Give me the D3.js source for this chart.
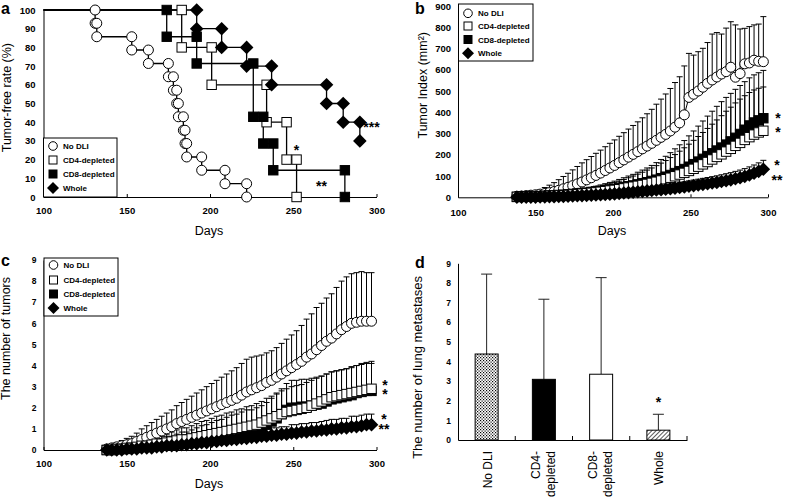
<!DOCTYPE html>
<html><head><meta charset="utf-8">
<script src="https://cdn.jsdelivr.net/npm/d3@7"></script>
<style>body{margin:0;background:#fff}svg{display:block}</style>
</head><body>
<script>
// ---------------- DATA ----------------
const xTicks = [100, 150, 200, 250, 300];
const seriesNames = ["No DLI", "CD4-depleted", "CD8-depleted", "Whole"];

// Panel a: Kaplan-Meier tumor-free rate (event days and rate after event)
const kmNoDliDays = [131, 132, 153, 163, 175, 178, 180, 181, 184, 185, 186, 195, 209, 222];
const kmNoDliRate = [92.9, 85.7, 78.6, 71.4, 64.3, 57.1, 50, 42.9, 35.7, 28.6, 21.4, 14.3, 7.1, 0];
const kmCd4Days = [183, 201, 234, 246, 252];
const kmCd4Rate = [80, 60, 40, 20, 0];
const kmCd8Days = [174, 192, 226, 232, 238, 281];
const kmCd8Rate = [85.7, 71.4, 42.9, 28.6, 14.3, 0];
const kmWholeDays = [192, 207, 222, 237, 270, 280, 290];
const kmWholeRate = [90, 80, 70, 60, 50, 40, 30];

// Panels b, c: measurement days
const days = [138,141,144,147,150,153,156,159,162,165,168,171,174,177,180,183,186,189,192,195,198,201,204,207,210,213,216,219,222,225,228,231,234,237,240,243,246,249,252,255,258,261,264,267,270,273,276,279,282,285,288,291,294,297];

// Panel b: tumor index (mm2), mean and upper error
const noDliIndex = [5,6,8,10,12,15,18,22,27,33,40,47,55,63,72,82,92,103,114,126,138,150,163,176,189,202,215,228,241,254,268,282,296,312,330,350,388,470,485,500,518,536,552,566,580,591,612,565,582,628,632,645,640,638];
const noDliIndexErr = [5,6,8,12,15,20,28,35,42,50,58,66,74,82,90,95,100,104,108,112,116,120,124,128,132,136,140,146,152,160,170,180,190,200,210,217,230,207,184,185,183,192,216,209,188,205,214,246,210,167,171,166,175,212];
const cd4Index = [2,2,3,3,4,5,6,7,8,9,10,11,13,15,17,19,21,23,26,29,32,35,38,42,46,50,54,58,63,68,73,79,85,92,99,107,115,124,134,144,155,166,178,190,202,215,228,242,256,270,283,295,305,313];
const cd4IndexErr = [2,2,3,3,4,5,6,7,8,9,10,11,12,14,16,18,20,22,25,28,31,34,38,42,46,50,55,60,65,70,76,82,88,95,102,110,118,126,134,142,150,158,166,174,182,190,196,202,206,208,210,210,208,206];
const cd8Index = [2,3,3,4,5,6,7,8,9,11,12,14,16,18,20,22,25,28,31,34,37,40,44,48,52,56,61,66,71,77,83,90,97,105,114,123,133,144,156,168,181,194,207,220,234,248,263,280,298,318,338,352,362,372];
const cd8IndexErr = [2,3,3,4,5,6,7,8,9,10,11,12,14,16,18,20,22,24,27,30,33,36,40,44,48,52,57,62,67,73,80,88,96,105,114,124,134,145,156,167,178,188,198,208,216,222,226,228,228,226,224,224,224,225];
const wholeIndex = [0,0,1,1,1,2,2,3,3,4,4,5,6,7,8,9,10,11,12,13,14,16,18,20,22,24,26,28,30,32,34,36,38,40,43,46,49,52,55,58,61,64,67,70,74,78,82,87,92,98,105,113,122,132];
const wholeIndexErr = [0,0,1,1,1,2,2,2,3,3,3,4,4,5,5,6,6,7,7,8,8,9,10,11,12,13,14,15,16,17,18,19,20,21,22,23,24,25,26,27,28,29,30,31,32,33,34,35,36,37,38,39,40,42];

// Panel c: number of tumors, mean and upper error
const noDliCount = [0.05,0.1,0.15,0.2,0.25,0.3,0.4,0.5,0.6,0.7,0.8,0.9,1.0,1.1,1.25,1.35,1.45,1.55,1.65,1.75,1.85,1.95,2.05,2.15,2.25,2.35,2.45,2.6,2.75,2.85,2.95,3.05,3.2,3.3,3.45,3.6,3.75,3.9,4.05,4.2,4.4,4.55,4.75,4.95,5.15,5.3,5.5,5.7,5.85,6.0,6.05,6.1,6.1,6.1];
const noDliCountErr = [0.1,0.15,0.2,0.25,0.3,0.35,0.4,0.5,0.55,0.6,0.65,0.7,0.75,0.8,0.85,0.9,0.95,1.0,1.05,1.1,1.15,1.2,1.25,1.3,1.35,1.4,1.45,1.5,1.55,1.55,1.5,1.45,1.4,1.4,1.4,1.45,1.5,1.55,1.6,1.7,1.8,1.9,2.0,2.0,2.05,2.1,2.2,2.3,2.35,2.35,2.35,2.35,2.3,2.3];
const cd4Count = [0,0,0.05,0.05,0.1,0.1,0.15,0.2,0.2,0.25,0.3,0.3,0.35,0.4,0.45,0.5,0.5,0.55,0.6,0.65,0.7,0.75,0.8,0.85,0.9,0.95,1.0,1.05,1.1,1.15,1.2,1.3,1.4,1.5,1.6,1.7,1.8,1.85,1.9,1.95,2.0,2.1,2.2,2.3,2.4,2.5,2.55,2.6,2.65,2.7,2.75,2.8,2.85,2.9];
const cd4CountErr = [0,0.05,0.1,0.1,0.15,0.15,0.2,0.25,0.25,0.3,0.35,0.35,0.4,0.45,0.5,0.55,0.55,0.6,0.65,0.7,0.7,0.75,0.8,0.8,0.85,0.85,0.9,0.9,0.95,0.95,1.0,1.0,1.05,1.05,1.1,1.1,1.1,1.15,1.15,1.15,1.2,1.2,1.2,1.2,1.2,1.2,1.2,1.2,1.2,1.25,1.25,1.3,1.3,1.3];
const cd8Count = [0,0,0.05,0.05,0.05,0.1,0.1,0.15,0.15,0.2,0.2,0.25,0.3,0.3,0.35,0.4,0.4,0.45,0.5,0.55,0.6,0.65,0.7,0.75,0.8,0.85,0.9,0.95,1.0,1.0,1.05,1.1,1.2,1.35,1.5,1.7,1.9,2.0,2.0,2.05,2.05,2.1,2.15,2.2,2.3,2.4,2.45,2.5,2.55,2.6,2.7,2.75,2.8,2.8];
const cd8CountErr = [0,0.05,0.1,0.1,0.1,0.15,0.15,0.2,0.2,0.25,0.25,0.3,0.35,0.35,0.4,0.45,0.45,0.5,0.55,0.6,0.6,0.65,0.7,0.7,0.75,0.8,0.8,0.85,0.9,0.9,0.95,1.0,1.05,1.1,1.15,1.2,1.25,1.3,1.3,1.3,1.3,1.3,1.3,1.3,1.3,1.3,1.3,1.3,1.3,1.3,1.3,1.3,1.3,1.3];
const wholeCount = [0,0,0,0,0.05,0.05,0.05,0.1,0.1,0.1,0.15,0.15,0.2,0.2,0.2,0.25,0.25,0.3,0.3,0.35,0.35,0.4,0.4,0.45,0.45,0.5,0.5,0.55,0.55,0.6,0.6,0.65,0.65,0.7,0.7,0.75,0.75,0.8,0.8,0.85,0.85,0.9,0.9,0.95,0.95,1.0,1.0,1.05,1.05,1.1,1.1,1.15,1.2,1.2];
const wholeCountErr = [0,0,0.05,0.05,0.05,0.05,0.1,0.1,0.1,0.1,0.1,0.15,0.15,0.15,0.15,0.2,0.2,0.2,0.2,0.2,0.25,0.25,0.25,0.25,0.25,0.3,0.3,0.3,0.3,0.3,0.3,0.35,0.35,0.35,0.35,0.35,0.35,0.4,0.4,0.4,0.4,0.4,0.4,0.4,0.45,0.45,0.45,0.45,0.45,0.5,0.5,0.5,0.5,0.5];

// Panel d: lung metastases
const metCategories = ["No DLI", "CD4-depleted", "CD8-depleted", "Whole"];
const metLabels = [["No DLI"], ["CD4-", "depleted"], ["CD8-", "depleted"], ["Whole"]];
const metMeans = [4.38, 3.09, 3.35, 0.5];
const metErr = [4.07, 4.08, 4.92, 0.81];
const metFills = ["url(#dots)", "#000", "#fff", "url(#hatch)"];

// ---------------- DRAWING ----------------
const FONT = '"Liberation Sans", Arial, Helvetica, sans-serif';
const svg = d3.select("body").append("svg").attr("width", 787).attr("height", 501);
svg.append("rect").attr("width", 787).attr("height", 501).attr("fill", "#fff");

const defs = svg.append("defs");
const dots = defs.append("pattern").attr("id", "dots").attr("patternUnits", "userSpaceOnUse").attr("width", 3).attr("height", 3);
dots.append("rect").attr("width", 3).attr("height", 3).attr("fill", "#fff");
dots.append("rect").attr("x", 0).attr("y", 0).attr("width", 1.2).attr("height", 1.2).attr("fill", "#000");
dots.append("rect").attr("x", 1.5).attr("y", 1.5).attr("width", 1.2).attr("height", 1.2).attr("fill", "#000");
const hatch = defs.append("pattern").attr("id", "hatch").attr("patternUnits", "userSpaceOnUse").attr("width", 3).attr("height", 3).attr("patternTransform", "rotate(45)");
hatch.append("rect").attr("width", 3).attr("height", 3).attr("fill", "#fff");
hatch.append("line").attr("x1", 0).attr("y1", 0).attr("x2", 0).attr("y2", 3).attr("stroke", "#000").attr("stroke-width", 1.3);

function styleAxis(g, fs) {
  g.attr("font-family", FONT);
  g.select(".domain").attr("stroke", "#000").attr("stroke-width", 1);
  g.selectAll(".tick line").attr("stroke", "#000");
  g.selectAll(".tick text").attr("font-size", fs).attr("font-weight", "bold").attr("fill", "#000");
}
function txt(g, x, y, s, opt = {}) {
  const t = g.append("text").attr("x", x).attr("y", y).text(s)
    .attr("font-family", FONT).attr("font-size", opt.fs || 12.5)
    .attr("font-weight", opt.fw || "normal").attr("fill", "#000")
    .attr("text-anchor", opt.anchor || "start");
  if (opt.rot) t.attr("transform", `rotate(-90,${x},${y})`);
  return t;
}
// stacked asterisk marks in one text element
function stars(g, x, y, lines, gap) {
  const t = g.append("text").attr("x", x).attr("y", y)
    .attr("font-family", FONT).attr("font-size", 14).attr("font-weight", "bold")
    .attr("fill", "#000").attr("text-anchor", "middle");
  lines.forEach((s, i) => t.append("tspan").attr("x", x).attr("dy", i === 0 ? 0 : gap).text(s));
}
function drawMarkers(g, pts, type, xs, ys) {
  const sel = g.selectAll(null).data(pts).enter();
  if (type === "circle") {
    sel.append("circle").attr("cx", d => xs(d.x)).attr("cy", d => ys(d.y)).attr("r", 5)
      .attr("fill", "#fff").attr("stroke", "#000").attr("stroke-width", 1);
  } else if (type === "open" || type === "filled") {
    sel.append("rect").attr("x", d => xs(d.x) - 4.7).attr("y", d => ys(d.y) - 4.7)
      .attr("width", 9.4).attr("height", 9.4)
      .attr("fill", type === "open" ? "#fff" : "#000").attr("stroke", "#000").attr("stroke-width", 1);
  } else {
    sel.append("path").attr("d", d => { const x = xs(d.x), y = ys(d.y), s = 6.8; return `M${x},${y - s}L${x + s},${y}L${x},${y + s}L${x - s},${y}Z`; })
      .attr("fill", "#000");
  }
}
function legend(g, x0, x1, y0, y1, rows) {
  g.append("rect").attr("x", x0).attr("y", y0).attr("width", x1 - x0).attr("height", y1 - y0)
    .attr("fill", "#fff").attr("stroke", "#000").attr("stroke-width", 1);
  const types = ["circle", "open", "filled", "diamond"];
  rows.forEach((ry, i) => {
    const mx = x0 + 9.5, t = types[i];
    if (t === "circle") g.append("circle").attr("cx", mx).attr("cy", ry).attr("r", 4.3).attr("fill", "#fff").attr("stroke", "#000").attr("stroke-width", 1);
    else if (t === "open" || t === "filled") g.append("rect").attr("x", mx - 4).attr("y", ry - 4).attr("width", 8).attr("height", 8).attr("fill", t === "open" ? "#fff" : "#000").attr("stroke", "#000");
    else g.append("path").attr("d", `M${mx},${ry - 6}L${mx + 6},${ry}L${mx},${ry + 6}L${mx - 6},${ry}Z`).attr("fill", "#000");
    txt(g, x0 + 19.5, ry + 3, seriesNames[i], { fs: 8, fw: "bold" });
  });
}

// ---------- Panel a ----------
{
  const g = svg.append("g");
  const x = d3.scaleLinear().domain([100, 300]).range([43.5, 376.5]);
  const y = d3.scaleLinear().domain([0, 100]).range([197, 10]);
  const ax = g.append("g").attr("transform", `translate(0,${y(0)})`)
    .call(d3.axisBottom(x).tickValues(xTicks).tickSizeInner(-3).tickSizeOuter(0).tickPadding(10));
  styleAxis(ax, 9.5);
  const ay = g.append("g").attr("transform", `translate(${x(100)},0)`)
    .call(d3.axisLeft(y).tickValues(d3.range(0, 101, 10)).tickSizeInner(0).tickSizeOuter(0).tickPadding(8));
  styleAxis(ay, 9.5);

  const curves = [
    [kmNoDliDays, kmNoDliRate, "circle"],
    [kmCd4Days, kmCd4Rate, "open"],
    [kmCd8Days, kmCd8Rate, "filled"],
    [kmWholeDays, kmWholeRate, "diamond"]
  ];
  const line = d3.line().x(p => x(p.x)).y(p => y(p.y));
  const stepPts = (dd, rr) => {
    const pts = [];
    let prev = 100;
    dd.forEach((d, i) => { pts.push({ x: d, y: prev }); pts.push({ x: d, y: rr[i] }); prev = rr[i]; });
    return pts;
  };
  curves.forEach(([dd, rr]) => {
    g.append("path").attr("d", line([{ x: 100, y: 100 }, ...stepPts(dd, rr)]))
      .attr("fill", "none").attr("stroke", "#000").attr("stroke-width", 1.3);
  });
  curves.forEach(([dd, rr, type]) => drawMarkers(g, stepPts(dd, rr), type, x, y));
  legend(g, 43.5, 117, 138, 197, [146, 160, 174, 188]);
  stars(g, x(252), y(20) - 5, ["*"], 0);
  stars(g, x(267), 191, ["**"], 0);
  stars(g, x(297), y(40) + 10, ["***"], 0);
  txt(g, 11, 43, "Tumor-free rate (%)", { rot: true, anchor: "end" });
  txt(g, 209, 235, "Days", { anchor: "middle" });
  txt(g, 1, 14, "a", { fs: 16, fw: "bold" });
}

// ---------- generic line-with-errorbar panel ----------
function errPanel(cfg) {
  const g = svg.append("g");
  const x = d3.scaleLinear().domain([100, 300]).range(cfg.xr);
  const y = d3.scaleLinear().domain([0, cfg.ymax]).range(cfg.yr);
  const ax = g.append("g").attr("transform", `translate(0,${y(0)})`)
    .call(d3.axisBottom(x).tickValues(xTicks).tickSizeInner(-3).tickSizeOuter(0).tickPadding(cfg.xpad));
  styleAxis(ax, 9.5);
  const ay = g.append("g").attr("transform", `translate(${x(100)},0)`)
    .call(d3.axisLeft(y).tickValues(d3.range(0, cfg.ymax + 0.001, cfg.ystep)).tickSizeInner(0).tickSizeOuter(0).tickPadding(cfg.ypad));
  styleAxis(ay, cfg.yfs);
  const series = cfg.series;
  series.forEach(s => {
    days.forEach((d, i) => {
      const xx = x(d), y1 = y(s.v[i]), y2 = y(s.v[i] + s.e[i]);
      g.append("line").attr("x1", xx).attr("x2", xx).attr("y1", y1).attr("y2", y2).attr("stroke", "#000").attr("stroke-width", 1);
      g.append("line").attr("x1", xx - 3).attr("x2", xx + 3).attr("y1", y2).attr("y2", y2).attr("stroke", "#000").attr("stroke-width", 1);
    });
  });
  const line = d3.line().x((d, i) => x(days[i])).y(d => y(d));
  series.forEach(s => {
    g.append("path").attr("d", line(s.v)).attr("fill", "none").attr("stroke", "#000").attr("stroke-width", 1);
  });
  series.forEach(s => {
    drawMarkers(g, s.v.map((v, i) => ({ x: days[i], y: v })), s.type, x, y);
  });
  return { g, x, y };
}

// ---------- Panel b ----------
{
  const { g } = errPanel({
    xr: [458, 768], yr: [197.3, 6], ymax: 900, ystep: 100, xpad: 12, ypad: 7, yfs: 9.5,
    series: [
      { v: noDliIndex, e: noDliIndexErr, type: "circle" },
      { v: cd8Index, e: cd8IndexErr, type: "filled" },
      { v: cd4Index, e: cd4IndexErr, type: "open" },
      { v: wholeIndex, e: wholeIndexErr, type: "diamond" }
    ]
  });
  legend(g, 458.5, 533, 4, 61, [13.3, 26, 39.5, 53.3]);
  stars(g, 778, 123, ["*", "*"], 14);
  stars(g, 777, 170, ["*", "**"], 15);
  txt(g, 427, 32, "Tumor Index (mm²)", { rot: true, anchor: "end" });
  txt(g, 612, 235, "Days", { anchor: "middle" });
  txt(g, 415, 14, "b", { fs: 16, fw: "bold" });
}

// ---------- Panel c ----------
{
  const { g } = errPanel({
    xr: [43.5, 376.5], yr: [450, 260], ymax: 9, ystep: 1, xpad: 10, ypad: 7, yfs: 8.5,
    series: [
      { v: noDliCount, e: noDliCountErr, type: "circle" },
      { v: cd8Count, e: cd8CountErr, type: "filled" },
      { v: cd4Count, e: cd4CountErr, type: "open" },
      { v: wholeCount, e: wholeCountErr, type: "diamond" }
    ]
  });
  legend(g, 44, 118, 258, 316, [265, 280, 294, 308]);
  stars(g, 385, 390, ["*", "*"], 9);
  stars(g, 384, 424, ["*", "**"], 10);
  txt(g, 10, 277, "The number of tumors", { rot: true, anchor: "end" });
  txt(g, 209, 488, "Days", { anchor: "middle" });
  txt(g, 1, 266, "c", { fs: 16, fw: "bold" });
}

// ---------- Panel d ----------
{
  const g = svg.append("g");
  const x = d3.scaleBand().domain(metCategories).range([458, 687]);
  const y = d3.scaleLinear().domain([0, 9]).range([440, 263.3]);
  const ay = g.append("g").attr("transform", `translate(458,0)`)
    .call(d3.axisLeft(y).tickValues(d3.range(0, 10)).tickSizeInner(0).tickSizeOuter(0).tickPadding(7));
  styleAxis(ay, 8.5);
  const ax = g.append("g").attr("transform", `translate(0,${y(0)})`)
    .call(d3.axisBottom(x).tickSize(0).tickFormat(""));
  styleAxis(ax, 9);
  metCategories.forEach(c => {
    const xe = x(c) + x.bandwidth();
    g.append("line").attr("x1", xe).attr("x2", xe).attr("y1", y(0)).attr("y2", y(0) - 4).attr("stroke", "#000");
  });
  const bw = 23;
  metCategories.forEach((c, i) => {
    const cx = x(c) + x.bandwidth() / 2;
    g.append("line").attr("x1", cx).attr("x2", cx).attr("y1", y(metMeans[i])).attr("y2", y(metMeans[i] + metErr[i])).attr("stroke", "#222").attr("stroke-width", 1);
    g.append("line").attr("x1", cx - 5.5).attr("x2", cx + 5.5).attr("y1", y(metMeans[i] + metErr[i])).attr("y2", y(metMeans[i] + metErr[i])).attr("stroke", "#222").attr("stroke-width", 1);
    g.append("rect").attr("x", cx - bw / 2).attr("y", y(metMeans[i])).attr("width", bw).attr("height", y(0) - y(metMeans[i]))
      .attr("fill", metFills[i]).attr("stroke", "#000").attr("stroke-width", 1);
    const lines = metLabels[i];
    if (lines.length === 1) {
      txt(g, cx + 5, 451, lines[0], { rot: true, anchor: "end", fs: 12 });
    } else {
      txt(g, cx - 4, 451, lines[0], { rot: true, anchor: "end", fs: 12 });
      txt(g, cx + 11, 451, lines[1], { rot: true, anchor: "end", fs: 12 });
    }
  });
  const wx = x("Whole") + x.bandwidth() / 2;
  stars(g, wx, 407, ["*"], 0);
  txt(g, 422, 276, "The number of lung metastases", { rot: true, anchor: "end", fs: 13 });
  txt(g, 415, 268, "d", { fs: 16, fw: "bold" });
}
</script>
</body></html>
